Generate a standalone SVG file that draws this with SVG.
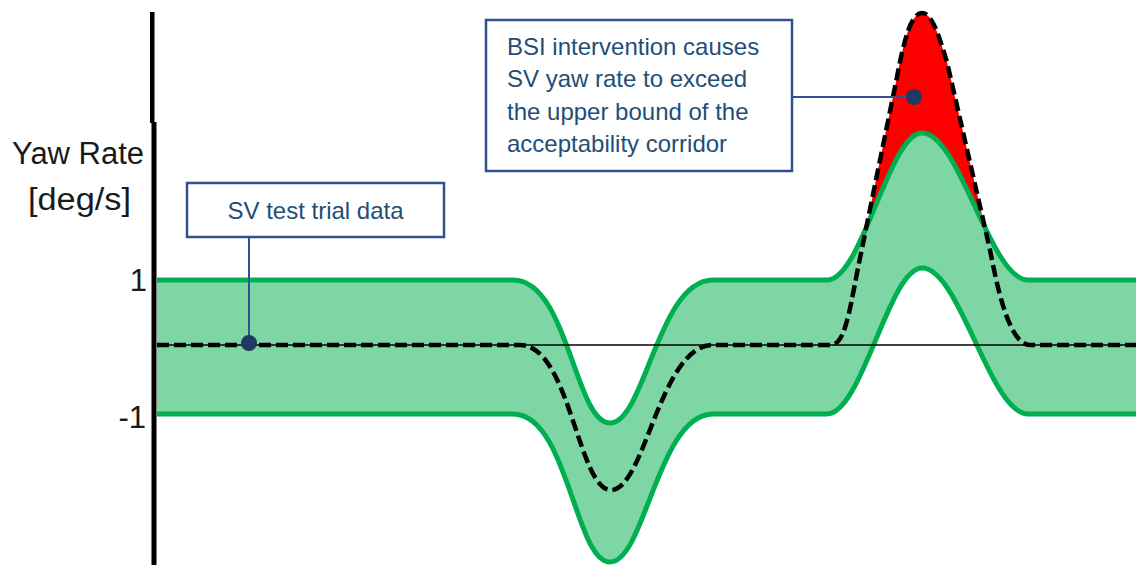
<svg xmlns="http://www.w3.org/2000/svg" width="1136" height="567" viewBox="0 0 1136 567">
<style>
.lbl{font-family:"Liberation Sans",Arial,sans-serif;font-size:31px;fill:#1a1a1a}
.call{font-family:"Liberation Sans",Arial,sans-serif;font-size:24px;fill:#1F4E79}
.box{fill:#fff;stroke:#2F528F;stroke-width:2.5}
.lead{stroke:#2F528F;stroke-width:2;fill:none}
.dot{fill:#1F3864}
.bound{fill:none;stroke:#00B050;stroke-width:5;stroke-linejoin:round}
.data{fill:none;stroke:#000;stroke-width:4.5;stroke-dasharray:12 5}
</style>
<defs>
<clipPath id="aboveUpper">
<path d="M827,0 L827,280 C862,280 889,133 922,133 C960,133 990,280 1028,280 L1028,0 Z"/>
</clipPath>
</defs>
<rect width="1136" height="567" fill="#fff"/>

<g id="exceedance">
<path clip-path="url(#aboveUpper)" fill="#FF0000" d="M830,345 C844,345 848,320 858,268 L897,77 C904,40 911,13 922,13 C933,13 940,40 947,62 L990,250 C996,280 1008,345 1030,345 Z"/>
</g>

<g id="corridor">
<path fill="#7FD6A5" d="M157,280 L513,280 C568,280 575,423 610,423 C645,423 658,280 713,280 L827,280 C862,280 889,133 922,133 C960,133 990,280 1028,280 L1136,280 L1136,414 L1028,414 C990,414 960,268 922,268 C889,268 862,414 827,414 L713,414 C658,414 645,562 610,562 C575,562 568,414 513,414 L157,414 Z"/>
<path class="bound" d="M157,280 L513,280 C568,280 575,423 610,423 C645,423 658,280 713,280 L827,280 C862,280 889,133 922,133 C960,133 990,280 1028,280 L1136,280"/>
<path class="bound" d="M157,414 L513,414 C568,414 575,562 610,562 C645,562 658,414 713,414 L827,414 C862,414 889,268 922,268 C960,268 990,414 1028,414 L1136,414"/>
</g>

<g id="axis">
<rect x="150" y="12" width="4.5" height="111" fill="#000"/>
<rect x="151.5" y="122" width="5" height="443" fill="#000"/>
<line x1="157" y1="345" x2="1136" y2="345" stroke="#000" stroke-width="1.3"/>
<text class="lbl" x="12" y="164">Yaw Rate</text>
<text class="lbl" x="28" y="210" textLength="103" lengthAdjust="spacingAndGlyphs">[deg/s]</text>
<text class="lbl" x="147" y="291" text-anchor="end">1</text>
<text class="lbl" x="146" y="428" text-anchor="end">-1</text>
</g>

<g id="trial-data">
<path class="data" d="M157,345 L520,345 C570,345 578,490 611,490 C645,490 660,345 713,345 L830,345 C844,345 848,320 858,268 L897,77 C904,40 911,13 922,13 C933,13 940,40 947,62 L990,250 C996,280 1008,345 1030,345 L1136,345"/>
</g>

<g id="connectors">
<line class="lead" x1="249" y1="237" x2="249" y2="343"/>
<line class="lead" x1="792" y1="97" x2="914" y2="97"/>
<circle class="dot" cx="249" cy="343" r="8"/>
<circle class="dot" cx="914" cy="97" r="8"/>
</g>

<g id="callout-trial">
<rect class="box" x="187" y="183" width="257" height="54"/>
<text class="call" x="315.5" y="219" text-anchor="middle">SV test trial data</text>
</g>

<g id="callout-bsi">
<rect class="box" x="486" y="20" width="306" height="151"/>
<text class="call" x="507" y="55">BSI intervention causes</text>
<text class="call" x="507" y="87">SV yaw rate to exceed</text>
<text class="call" x="507" y="120">the upper bound of the</text>
<text class="call" x="507" y="152">acceptability corridor</text>
</g>
</svg>
